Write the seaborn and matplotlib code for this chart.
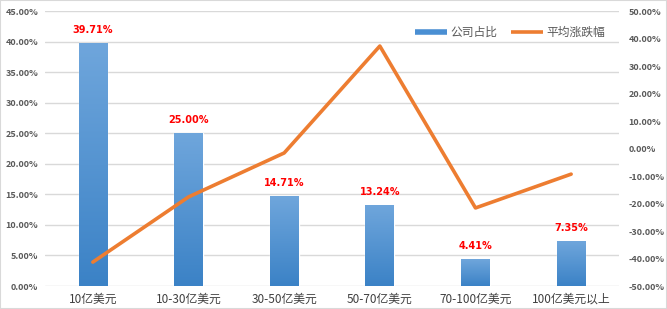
import numpy as np
import pandas as pd
import matplotlib
matplotlib.use("Agg")
import matplotlib.pyplot as plt
import seaborn as sns
from matplotlib.ticker import FuncFormatter, MultipleLocator
from matplotlib.colors import LinearSegmentedColormap
from matplotlib.lines import Line2D

categories = ["10亿美元", "10-30亿美元", "30-50亿美元", "50-70亿美元", "70-100亿美元", "100亿美元以上"]
share = [39.71, 25.00, 14.71, 13.24, 4.41, 7.35]
avg_change = [-41.3, -17.6, -1.6, 37.3, -21.6, -9.3]
share_labels = ["39.71%", "25.00%", "14.71%", "13.24%", "4.41%", "7.35%"]

sns.set_theme(style="white")
plt.rcParams['font.family'] = ['Noto Sans CJK SC', 'DejaVu Sans']

df = pd.DataFrame({"cat": categories, "share": share, "chg": avg_change})

fig = plt.figure(figsize=(6.67, 3.09), dpi=100)
ax = fig.add_axes([0.0675, 0.0744, 0.8605, 0.8896])

bar_color = "#4A8FD3"
sns.barplot(data=df, x="cat", y="share", color=bar_color, width=0.3, ax=ax,
            saturation=1, label="公司占比", zorder=2)
ax.set_ylim(0, 45)
ax.yaxis.set_major_locator(MultipleLocator(5))
ax.yaxis.set_major_formatter(FuncFormatter(lambda v, p: f"{v:.2f}%"))
ax.grid(axis="y", color="#D9D9D9", linewidth=1, zorder=0)
ax.set_axisbelow(True)
ax.set_xlabel("")
ax.set_ylabel("")
for s in ax.spines.values():
    s.set_visible(False)
ax.tick_params(axis="y", length=0, labelsize=6.5, labelcolor="#595959", pad=5)
ax.tick_params(axis="x", length=0, labelsize=8.5, labelcolor="#404040", pad=5)
for t in ax.get_yticklabels():
    t.set_fontweight("bold")
for t in ax.get_xticklabels():
    t.set_fontstyle("italic")

grad = np.linspace(0, 1, 256).reshape(-1, 1)
cmap = LinearSegmentedColormap.from_list("g", ["#3B82C6", "#6FA6DC"])
for patch in ax.patches:
    x0, y0 = patch.get_x(), patch.get_y()
    w, h = patch.get_width(), patch.get_height()
    im = ax.imshow(grad, extent=[x0, x0 + w, y0, y0 + h], origin="lower",
                   cmap=cmap, aspect="auto", zorder=2.5)
    im.set_clip_path(patch)
ax.set_xlim(-0.5, len(categories) - 0.5)

for i, (v, lab) in enumerate(zip(share, share_labels)):
    ax.text(i, v + 1.3, lab, ha="center", va="bottom", color="#FF0000",
            fontsize=7, fontweight="bold", family=["DejaVu Sans"])

ax2 = ax.twinx()
sns.lineplot(data=df, x="cat", y="chg", color="#ED7D31", linewidth=2.6, ax=ax2,
             label="平均涨跌幅", sort=False, zorder=3)
ax2.set_ylim(-50, 50)
ax2.yaxis.set_major_locator(MultipleLocator(10))
ax2.yaxis.set_major_formatter(FuncFormatter(lambda v, p: f"{v:.2f}%"))
ax2.set_ylabel("")
ax2.set_xlabel("")
for s in ax2.spines.values():
    s.set_visible(False)
ax2.tick_params(axis="y", length=0, labelsize=6.5, labelcolor="#595959", pad=7)
for t in ax2.get_yticklabels():
    t.set_fontweight("bold")
ax2.set_xlim(-0.5, len(categories) - 0.5)

if ax.get_legend():
    ax.get_legend().remove()
if ax2.get_legend():
    ax2.get_legend().remove()
handles = [Line2D([0], [0], color="#4A8FD3", linewidth=4, solid_capstyle="butt"),
           Line2D([0], [0], color="#ED7D31", linewidth=2.6, solid_capstyle="butt")]
leg = ax2.legend(handles, ["公司占比", "平均涨跌幅"], loc="upper right",
                 bbox_to_anchor=(0.995, 0.985), ncol=2, frameon=False, fontsize=8.5,
                 handlelength=2.7, columnspacing=1.2, handletextpad=0.3)
for t in leg.get_texts():
    t.set_color("#595959")

fig.patches.append(plt.Rectangle((0, 0), 1, 1, transform=fig.transFigure,
                                 fill=False, edgecolor="#D9D9D9", linewidth=1.5))
fig.savefig("out.png", dpi=100)
